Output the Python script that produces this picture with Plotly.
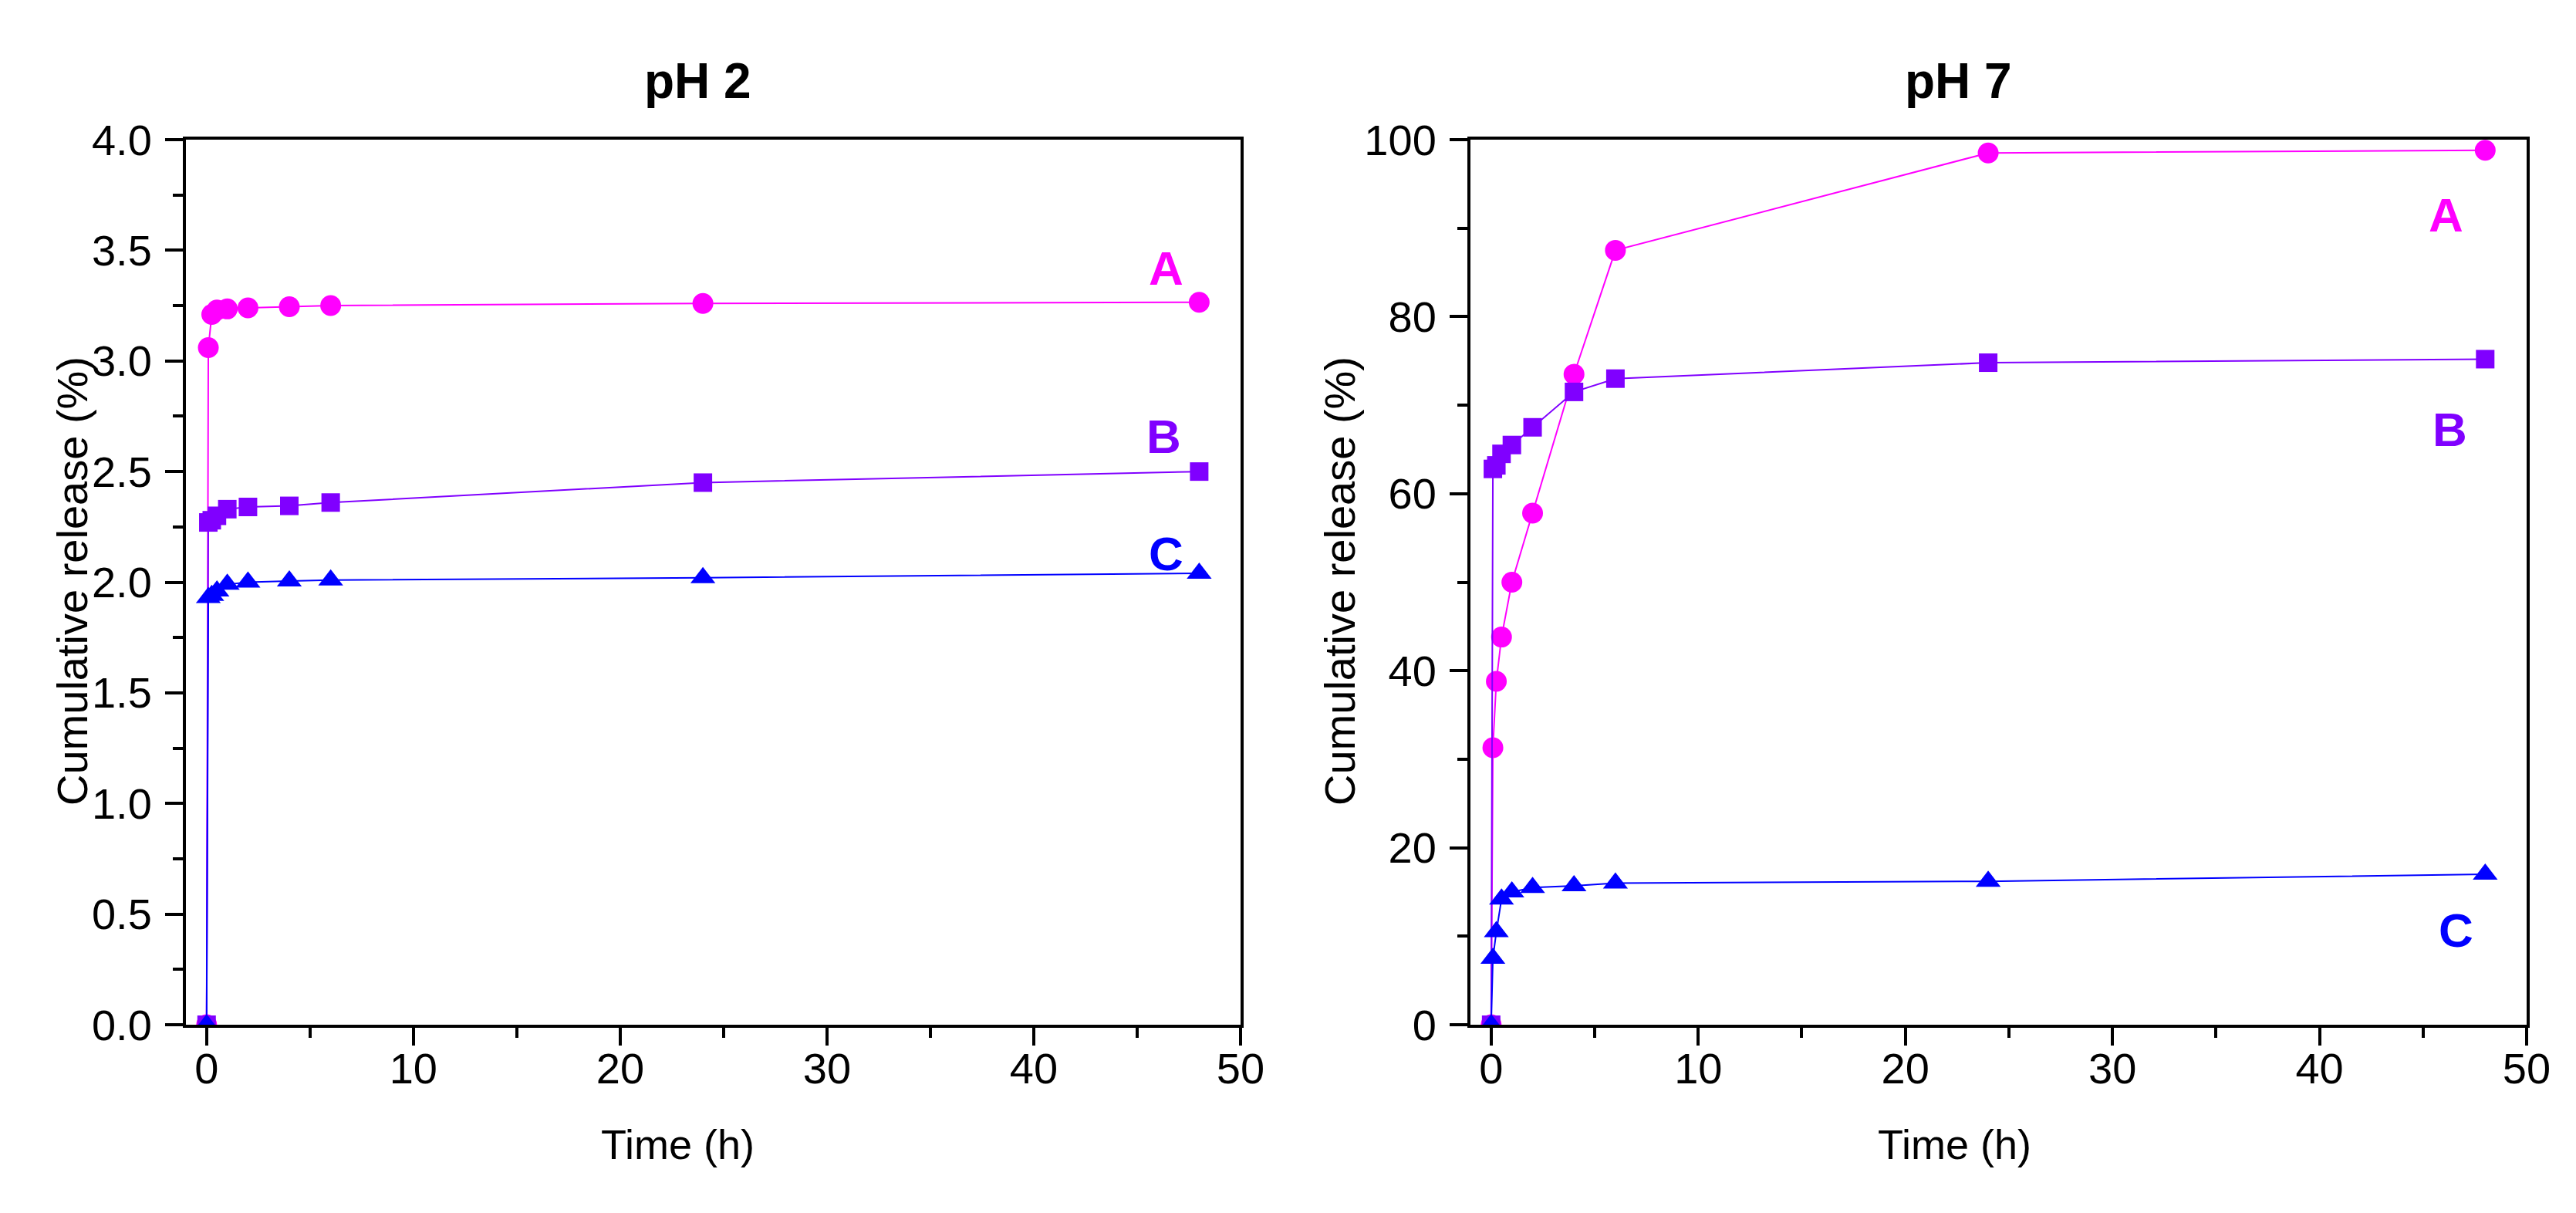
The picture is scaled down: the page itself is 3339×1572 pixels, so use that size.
import plotly.graph_objects as go
from plotly.subplots import make_subplots

# sampling times (h)
time_h = [0, 0.083, 0.25, 0.5, 1, 2, 4, 6, 24, 48]

# pH 2 cumulative release (%)
ph2_A = [0, 3.06, 3.21, 3.23, 3.235, 3.24, 3.245, 3.25, 3.26, 3.265]
ph2_B = [0, 2.27, 2.28, 2.30, 2.33, 2.34, 2.345, 2.36, 2.45, 2.50]
ph2_C = [0, 1.93, 1.94, 1.96, 1.99, 2.00, 2.005, 2.01, 2.02, 2.04]

# pH 7 cumulative release (%)
ph7_A = [0, 31.3, 38.8, 43.8, 50.0, 57.8, 73.5, 87.5, 98.5, 98.8]
ph7_B = [0, 62.8, 63.2, 64.5, 65.5, 67.5, 71.5, 73.0, 74.8, 75.2]
ph7_C = [0, 7.5, 10.5, 14.2, 15.0, 15.5, 15.7, 16.0, 16.2, 17.0]

series_names = ["A", "B", "C"]
colors = ["#FF00FF", "#8000FF", "#0000FF"]
symbols = ["circle", "square", "triangle-up"]
sizes = [27, 24, 28]

FONT = "Liberation Sans, Arial, sans-serif"
W, H = 3339, 1572

# plot frames in pixels
left_x = [233 / W, 1600 / W]
right_x = [1898 / W, 3267 / W]
y_dom = [1 - 1320 / H, 1 - 173 / H]

fig = make_subplots(rows=1, cols=2)

for col, data in [(1, [ph2_A, ph2_B, ph2_C]), (2, [ph7_A, ph7_B, ph7_C])]:
	for name, ys, c, s, sz in zip(series_names, data, colors, symbols, sizes):
		fig.add_trace(
			go.Scatter(
				x=time_h, y=ys, name=name, mode="lines+markers",
				line=dict(color=c, width=2),
				marker=dict(symbol=s, size=sz, color=c),
				showlegend=False,
			),
			row=1, col=col,
		)

axis_common = dict(
	showline=True, linecolor="black", linewidth=4, mirror=True,
	ticks="outside", ticklen=23, tickwidth=4, tickcolor="black",
	showgrid=False, zeroline=False, automargin=False,
	tickfont=dict(family=FONT, size=56, color="black"),
)

fig.update_xaxes(
	range=[-1, 50], dtick=10, tick0=0, ticklabelstandoff=-18,
	minor=dict(dtick=5, tick0=0, ticks="outside", ticklen=13, tickwidth=4, tickcolor="black"),
	**axis_common,
)
fig.update_yaxes(
	range=[0, 4], dtick=0.5, tickformat=".1f", ticklabelstandoff=6,
	minor=dict(dtick=0.25, ticks="outside", ticklen=13, tickwidth=4, tickcolor="black"),
	row=1, col=1, **axis_common,
)
fig.update_yaxes(
	range=[0, 100], dtick=20, ticklabelstandoff=6,
	minor=dict(dtick=10, ticks="outside", ticklen=13, tickwidth=4, tickcolor="black"),
	row=1, col=2, **axis_common,
)

fig.update_layout(
	xaxis=dict(domain=left_x),
	xaxis2=dict(domain=right_x),
	yaxis=dict(domain=y_dom),
	yaxis2=dict(domain=y_dom),
)

annotations = []
centered = dict(xref="paper", yref="paper", xanchor="center", yanchor="middle", showarrow=False)
# panel titles
for title, xc in [("pH 2", 896), ("pH 7", 2530)]:
	annotations.append(dict(text="<b>%s</b>" % title, x=xc / W, y=1 - 97 / H,
		font=dict(family=FONT, size=64, color="black"), **centered))
# axis titles
for xc in [870, 2525]:
	annotations.append(dict(text="Time (h)", x=xc / W, y=1 - 1475 / H,
		font=dict(family=FONT, size=54, color="black"), **centered))
for xc in [85, 1728]:
	annotations.append(dict(text="Cumulative release (%)", x=xc / W, y=1 - 745 / H, textangle=-90,
		font=dict(family=FONT, size=56, color="black"), **centered))

# series labels
label_pos_ph2 = [(46.4, 3.42), (46.3, 2.66), (46.4, 2.13)]
label_pos_ph7 = [(46.1, 91.5), (46.3, 67.3), (46.6, 10.7)]
for (xr, yr), positions in [(("x", "y"), label_pos_ph2), (("x2", "y2"), label_pos_ph7)]:
	for name, c, (lx, ly) in zip(series_names, colors, positions):
		annotations.append(dict(text="<b>%s</b>" % name, x=lx, y=ly, xref=xr, yref=yr,
			xanchor="center", yanchor="middle",
			showarrow=False, font=dict(family=FONT, size=62, color=c)))

fig.update_layout(
	annotations=annotations,
	width=W, height=H,
	margin=dict(l=0, r=0, t=0, b=0, autoexpand=False),
	paper_bgcolor="white", plot_bgcolor="white",
)

fig.write_html("out.html")
